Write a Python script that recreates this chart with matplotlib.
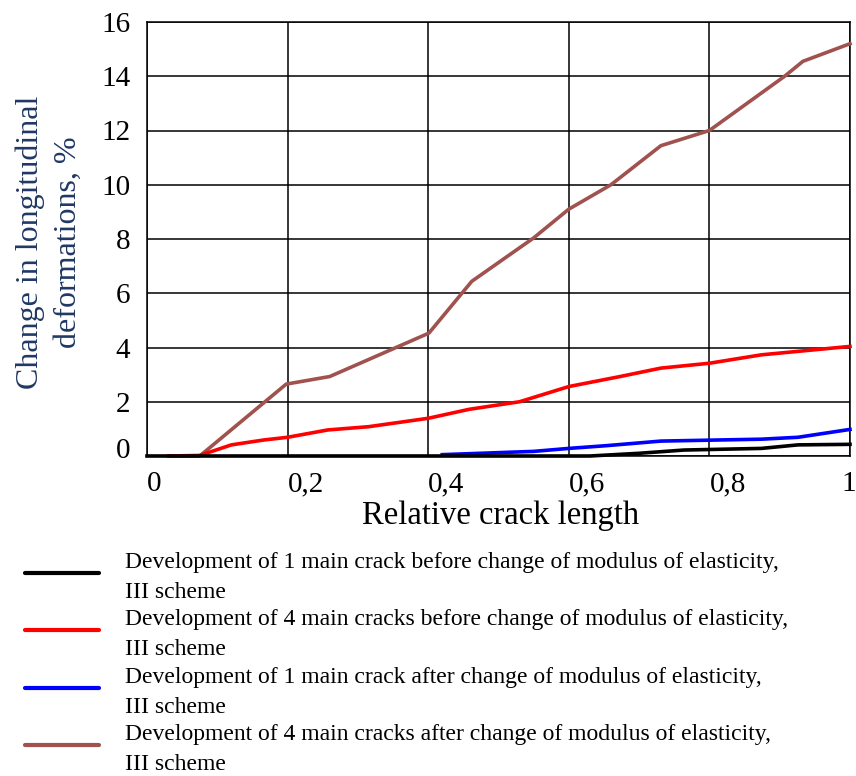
import matplotlib
matplotlib.use("Agg")
import matplotlib.pyplot as plt
from matplotlib.lines import Line2D
from matplotlib.transforms import ScaledTranslation

# ---- data ----
x_ticks = [0, 0.2, 0.4, 0.6, 0.8, 1.0]
x_tick_labels = ["0", "0,2", "0,4", "0,6", "0,8", "1"]
y_ticks = [0, 2, 4, 6, 8, 10, 12, 14, 16]

x_black = [0.0, 0.63, 0.70, 0.764, 0.874, 0.926, 1.0]
y_black = [0.0, 0.0, 0.10, 0.22, 0.28, 0.41, 0.43]

x_red = [0.03, 0.075, 0.12, 0.166, 0.2, 0.257, 0.315, 0.4, 0.458, 0.53, 0.6,
         0.673, 0.731, 0.8, 0.874, 1.0]
y_red = [0.0, 0.02, 0.41, 0.59, 0.69, 0.96, 1.08, 1.39, 1.72, 2.0, 2.56,
         2.93, 3.24, 3.42, 3.73, 4.04]

x_blue = [0.42, 0.55, 0.6, 0.653, 0.731, 0.874, 0.926, 1.0]
y_blue = [0.05, 0.17, 0.28, 0.38, 0.55, 0.62, 0.69, 0.98]

x_brown = [0.035, 0.075, 0.198, 0.26, 0.401, 0.462, 0.55, 0.6, 0.66, 0.731,
           0.8, 0.907, 0.933, 1.0]
y_brown = [0.0, 0.0, 2.65, 2.93, 4.53, 6.44, 8.04, 9.1, 10.0, 11.44,
           12.0, 14.0, 14.55, 15.2]

labels = [
    "Development of 1 main crack before change of modulus of elasticity,\nIII scheme",
    "Development of 4 main cracks before change of modulus of elasticity,\nIII scheme",
    "Development of 1 main crack after change of modulus of elasticity,\nIII scheme",
    "Development of 4 main cracks after change of modulus of elasticity,\nIII scheme",
]
colors = ["#000000", "#ff0000", "#0000ff", "#a0524f"]

plt.rcParams["font.family"] = ["Liberation Serif", "DejaVu Serif"]

W, H = 856, 776
fig = plt.figure(figsize=(W / 100, H / 100), dpi=100)
ax = fig.add_axes([147 / W, 1 - 456 / H, (850 - 147) / W, (456 - 22) / H])

lw = 2.6
h_brown, = ax.plot(x_brown, y_brown, color=colors[3], lw=lw, clip_on=False, zorder=3)
h_blue, = ax.plot(x_blue, y_blue, color=colors[2], lw=lw, clip_on=False, zorder=4)
h_red, = ax.plot(x_red, y_red, color=colors[1], lw=lw, clip_on=False, zorder=5)
h_black, = ax.plot(x_black, y_black, color=colors[0], lw=lw, clip_on=False, zorder=6)

ax.set_xlim(0, 1)
ax.set_ylim(0, 16)
ax.set_xticks(x_ticks)
ax.set_xticklabels(x_tick_labels, fontsize=21)
for t in ax.get_xticklabels():
    t.set_horizontalalignment("left")
ax.set_yticks(y_ticks)
ax.set_yticklabels([str(v) for v in y_ticks], fontsize=21)
ax.tick_params(axis="both", length=0)
ax.tick_params(axis="y", pad=12)
ax.tick_params(axis="x", pad=11)
ax.grid(True, color="black", lw=1.1)
for s in ax.spines.values():
    s.set_color("black")
    s.set_linewidth(1.1)

# lift the "0" y label slightly above the x axis, as in the reference
lbl0 = ax.get_yticklabels()[0]
lbl0.set_transform(lbl0.get_transform() + ScaledTranslation(0, 8 / 100, fig.dpi_scale_trans))
# keep the last x label ("1") inside the picture
lbl_last = ax.get_xticklabels()[-1]
lbl_last.set_transform(lbl_last.get_transform() + ScaledTranslation(-9 / 100, 0, fig.dpi_scale_trans))

# axis titles
fig.text(501 / W, 1 - 524 / H, "Relative crack length", fontsize=23.5,
         ha="center", va="baseline")
fig.text(49 / W, 1 - 242 / H, "Change in longitudinal\ndeformations, %",
         fontsize=23, rotation=90, ha="center", va="center",
         multialignment="center", linespacing=1.4, color="#203864")

# legend (handles + two-line labels)
handles = [h_black, h_red, h_blue, h_brown]
pitch = 57.3
for i, (h, lab) in enumerate(zip(handles, labels)):
    yl = 573 + pitch * i
    fig.add_artist(Line2D([25 / W, 99 / W], [1 - yl / H, 1 - yl / H],
                          color=h.get_color(), lw=3.0, solid_capstyle="round",
                          transform=fig.transFigure))
    first, second = lab.split("\n")
    fig.text(125 / W, 1 - (568 + pitch * i) / H, first, fontsize=17,
             ha="left", va="baseline")
    fig.text(125 / W, 1 - (598 + pitch * i) / H, second, fontsize=17,
             ha="left", va="baseline")

fig.savefig("out.png", dpi=100)
